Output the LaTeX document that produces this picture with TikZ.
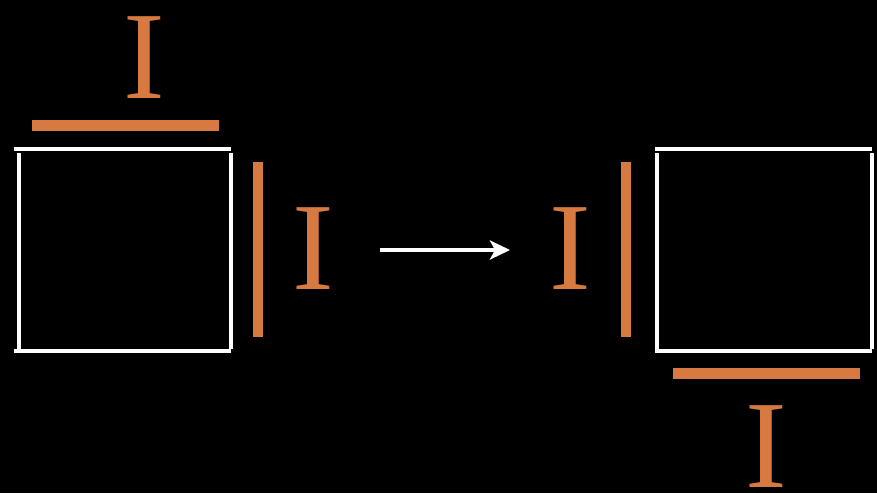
\documentclass[tikz,border=0pt]{standalone}
\usepackage{fontspec}
\setmainfont{Liberation Serif}
\usetikzlibrary{arrows.meta}
\definecolor{bar}{RGB}{215,122,66}
\begin{document}
\begin{tikzpicture}[x=1pt,y=-1pt,
  edge/.style={draw=white,line width=4pt},
  barline/.style={draw=bar,line width=10.5pt},
  letter/.style={text=bar,inner sep=0pt,font=\fontsize{125}{125}\selectfont}]
\fill[black] (0,0) rectangle (877,493);
\useasboundingbox (0,0) rectangle (877,493);

% left square
\draw[edge] (14,148.5) -- (231,148.5);
\draw[edge] (18.5,153) -- (18.5,349);
\draw[edge] (231.3,153) -- (231.3,349);
\draw[edge] (14,351) -- (231,351);

% right square
\draw[edge] (655,148.5) -- (872,148.5);
\draw[edge] (657.3,153) -- (657.3,349);
\draw[edge] (872,153) -- (872,349);
\draw[edge] (655,351) -- (872,351);

% current bars
\draw[barline] (32,125.5) -- (219,125.5);
\draw[barline] (258,162) -- (258,337);
\draw[barline] (626,162) -- (626,337);
\draw[barline] (673,373.5) -- (860,373.5);

% labels
\node[letter] (itop) at (144,57.5) {I};
\node[letter] (iright) at (313.5,249) {I};
\node[letter] (ileft) at (570.5,249) {I};
\node[letter] (ibottom) at (766.5,446.5) {I};

% transformation arrow
\coordinate (from) at (380,250);
\coordinate (to) at (510,250);
\draw[draw=white,line width=4pt,-{Stealth[length=20pt,width=19pt,inset=5pt]}] (from) -- (to);
\end{tikzpicture}
\end{document}
